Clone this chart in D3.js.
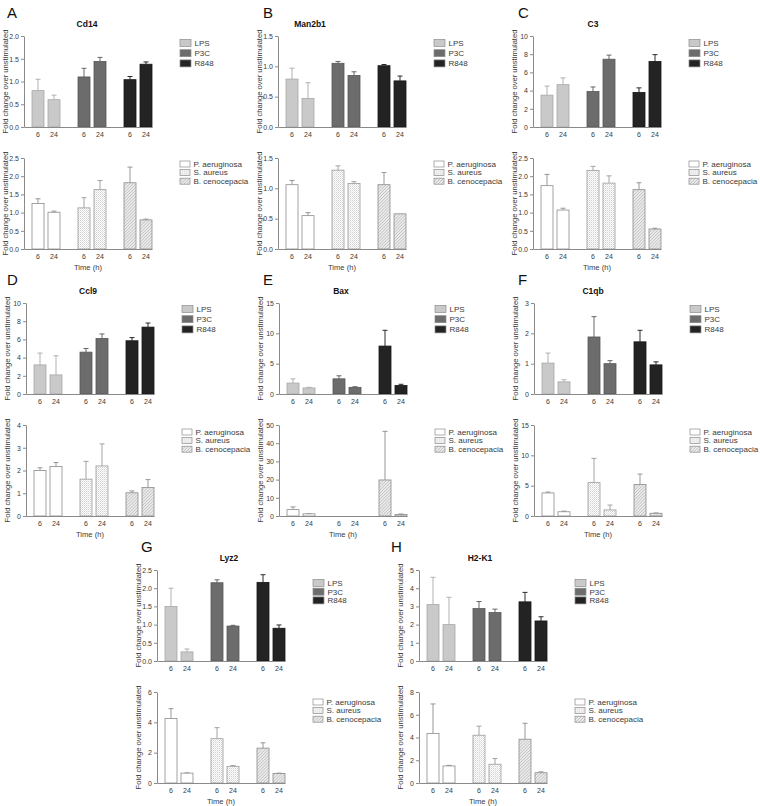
<!DOCTYPE html>
<html>
<head>
<meta charset="utf-8">
<script src="https://cdn.jsdelivr.net/npm/d3@7/dist/d3.min.js"></script>
<style>
  body { margin: 0; background: #fff; }
  svg { font-family: 'Liberation Sans', Arial, sans-serif; }
</style>
</head>
<body>
<div id="chart"></div>
<script>
// Gene expression after stimulation — fold change over unstimulated (mean + SEM)

const times = ['6', '24'];
const stimuli = ['LPS', 'P3C', 'R848'];
const bacteria = ['P. aeruginosa', 'S. aureus', 'B. cenocepacia'];
const genes = ['Cd14', 'Man2b1', 'C3', 'Ccl9', 'Bax', 'C1qb', 'Lyz2', 'H2-K1'];
const panelLetters = ['A', 'B', 'C', 'D', 'E', 'F', 'G', 'H'];

// [gene][stimulus][time]
const stimMeans = [
  [[0.80, 0.60], [1.10, 1.44], [1.04, 1.38]],
  [[0.79, 0.47], [1.05, 0.85], [1.01, 0.76]],
  [[3.5, 4.65], [3.9, 7.45], [3.8, 7.2]],
  [[3.2, 2.1], [4.6, 6.1], [5.85, 7.35]],
  [[1.8, 1.0], [2.5, 1.1], [7.9, 1.4]],
  [[1.02, 0.40], [1.88, 1.0], [1.72, 0.96]],
  [[1.50, 0.25], [2.15, 0.96], [2.16, 0.90]],
  [[3.1, 2.0], [2.88, 2.66], [3.25, 2.2]],
];
const stimErrors = [
  [[0.25, 0.10], [0.19, 0.09], [0.07, 0.05]],
  [[0.18, 0.26], [0.03, 0.06], [0.02, 0.08]],
  [[1.0, 0.75], [0.5, 0.45], [0.5, 0.75]],
  [[1.3, 2.1], [0.4, 0.5], [0.35, 0.45]],
  [[0.7, 0.1], [0.5, 0.1], [2.6, 0.2]],
  [[0.33, 0.07], [0.67, 0.1], [0.38, 0.1]],
  [[0.50, 0.08], [0.08, 0.02], [0.21, 0.09]],
  [[1.5, 1.5], [0.39, 0.19], [0.52, 0.23]],
];

// [gene][bacterium][time]
const bactMeans = [
  [[1.25, 1.01], [1.13, 1.63], [1.82, 0.80]],
  [[1.06, 0.55], [1.30, 1.08], [1.06, 0.58]],
  [[1.74, 1.07], [2.16, 1.81], [1.63, 0.55]],
  [[2.0, 2.18], [1.62, 2.2], [1.02, 1.25]],
  [[3.5, 1.2], [0, 0], [19.8, 0.8]],
  [[3.8, 0.7], [5.5, 1.0], [5.2, 0.45]],
  [[4.25, 0.65], [2.92, 1.1], [2.3, 0.63]],
  [[4.35, 1.5], [4.2, 1.65], [3.85, 0.9]],
];
const bactErrors = [
  [[0.13, 0.03], [0.28, 0.25], [0.43, 0.02]],
  [[0.07, 0.05], [0.07, 0.03], [0.20, 0]],
  [[0.31, 0.05], [0.11, 0.20], [0.19, 0.02]],
  [[0.12, 0.17], [0.78, 0.97], [0.08, 0.35]],
  [[1.5, 0.1], [0, 0], [26.7, 0.3]],
  [[0.15, 0.1], [4.0, 0.8], [1.7, 0.05]],
  [[0.65, 0.02], [0.73, 0.05], [0.35, 0.02]],
  [[2.6, 0.05], [0.8, 0.5], [1.4, 0.08]],
];

const stimMax = [2, 1.5, 10, 10, 15, 3, 2.5, 5];
const stimStep = [0.5, 0.5, 2, 2, 5, 1, 0.5, 1];
const bactMax = [2.5, 1.5, 2.5, 4, 50, 15, 6, 8];
const bactStep = [0.5, 0.5, 0.5, 1, 10, 5, 2, 2];

// placement of each panel on the page
const panels = [
  { axisX: 24,  row: 0, letterX: 7,   titleDx: 63 },
  { axisX: 278, row: 0, letterX: 263, titleDx: 32 },
  { axisX: 533, row: 0, letterX: 518, titleDx: 60 },
  { axisX: 26,  row: 1, letterX: 7,   titleDx: 62 },
  { axisX: 279, row: 1, letterX: 263, titleDx: 62 },
  { axisX: 534, row: 1, letterX: 518, titleDx: 59 },
  { axisX: 157, row: 2, letterX: 141, titleDx: 72 },
  { axisX: 419, row: 2, letterX: 391, titleDx: 61 },
];
const rowTop = [36, 303, 570];
const legendTopDy = [7, 6, 13];
const legendBotDy = [6, 7, 10];

const W = 760, H = 806;
const plotW = 128, plotH = 91;
const botOffset = 122;
const textCol = '#3a3a3a';
const axisCol = '#8a8a8a';

const svg = d3.select('#chart').append('svg')
  .attr('width', W).attr('height', H);

// patterns for the bacterial bars
const defs = svg.append('defs');
const dots = defs.append('pattern')
  .attr('id', 'dots').attr('patternUnits', 'userSpaceOnUse')
  .attr('width', 2).attr('height', 2);
dots.append('rect').attr('width', 2).attr('height', 2).attr('fill', '#fff');
dots.append('rect').attr('width', 1).attr('height', 1).attr('fill', '#cfcfcf');
dots.append('rect').attr('x', 1).attr('y', 1).attr('width', 1).attr('height', 1).attr('fill', '#e4e4e4');

const hatch = defs.append('pattern')
  .attr('id', 'hatch').attr('patternUnits', 'userSpaceOnUse')
  .attr('width', 2.2).attr('height', 2.2)
  .attr('patternTransform', 'rotate(45)');
hatch.append('rect').attr('width', 2.2).attr('height', 2.2).attr('fill', '#ececec');
hatch.append('line').attr('x1', 0).attr('y1', 0).attr('x2', 0).attr('y2', 2.2)
  .attr('stroke', '#a4a4a4').attr('stroke-width', 0.9);

const stimStyle = {
  'LPS':  { fill: '#c9c9c9', stroke: '#a8a8a8' },
  'P3C':  { fill: '#6c6c6c', stroke: '#575757' },
  'R848': { fill: '#232323', stroke: '#151515' },
};
const bactStyle = {
  'P. aeruginosa':  { fill: '#fff', stroke: '#8c8c8c' },
  'S. aureus':      { fill: 'url(#dots)', stroke: '#9a9a9a' },
  'B. cenocepacia': { fill: 'url(#hatch)', stroke: '#8c8c8c' },
};

function ticksFor(max, step) {
  return d3.range(0, max + step / 2, step);
}

function drawPlot(g, groups, means, errors, max, step, styles, showTime) {
  const x0 = d3.scaleBand().domain(groups).range([0, plotW])
    .paddingInner(18 / 46).paddingOuter(4 / 46).align(1);
  const x1 = d3.scaleBand().domain(times).range([0, x0.bandwidth()])
    .paddingInner(0.25);
  const y = d3.scaleLinear().domain([0, max]).range([plotH, 0]);
  const fmt = step < 1 ? d3.format('.1f') : d3.format('d');

  // y axis
  const ya = g.append('g').call(d3.axisLeft(y)
    .tickValues(ticksFor(max, step)).tickFormat(fmt)
    .tickSize(3).tickSizeOuter(0).tickPadding(2));
  ya.select('.domain').attr('stroke', axisCol);
  ya.selectAll('.tick line').attr('stroke', axisCol);
  ya.selectAll('.tick text').attr('fill', textCol).style('font-size', '7px');

  // bars and error bars
  groups.forEach((grp, gi) => {
    const gg = g.append('g').attr('transform', `translate(${x0(grp)},0)`);
    const st = styles[grp];
    times.forEach((t, ti) => {
      const m = means[gi][ti];
      const e = errors[gi][ti];
      if (m <= 0) return;
      const bx = x1(t), bw = x1.bandwidth(), cx = bx + bw / 2;
      if (e > 0) {
        gg.append('line')
          .attr('x1', cx).attr('x2', cx)
          .attr('y1', y(m)).attr('y2', y(m + e))
          .attr('stroke', st.stroke).attr('stroke-width', 0.9);
        gg.append('line')
          .attr('x1', cx - 2.5).attr('x2', cx + 2.5)
          .attr('y1', y(m + e)).attr('y2', y(m + e))
          .attr('stroke', st.stroke).attr('stroke-width', 0.9);
      }
      gg.append('rect')
        .attr('x', bx).attr('y', y(m))
        .attr('width', bw).attr('height', y(0) - y(m))
        .attr('fill', st.fill)
        .attr('stroke', st.stroke).attr('stroke-width', 0.8);
    });
    // time labels under each group
    const xa = gg.append('g').attr('transform', `translate(0,${plotH})`)
      .call(d3.axisBottom(x1).tickSize(0).tickPadding(5));
    xa.select('.domain').remove();
    xa.selectAll('text').attr('fill', textCol).style('font-size', '7px');
  });

  // x axis line
  const xa = g.append('g').attr('transform', `translate(0,${plotH})`)
    .call(d3.axisBottom(x0).tickValues([]).tickSizeOuter(0));
  xa.select('.domain').attr('stroke', axisCol);

  // y label
  g.append('text')
    .attr('transform', `translate(-19,${plotH / 2}) rotate(-90)`)
    .attr('text-anchor', 'middle').attr('dy', '0.35em')
    .attr('fill', textCol).style('font-size', '7.6px')
    .text('Fold change over unstimulated');

  if (showTime) {
    g.append('text')
      .attr('x', plotW / 2).attr('y', plotH + 21)
      .attr('text-anchor', 'middle')
      .attr('fill', textCol).style('font-size', '7.6px')
      .text('Time (h)');
  }
}

function drawLegend(g, items, styles, spacing, sw, sh) {
  items.forEach((name, i) => {
    const row = g.append('g').attr('transform', `translate(0,${i * spacing})`);
    row.append('rect')
      .attr('x', 0).attr('y', -sh / 2)
      .attr('width', sw).attr('height', sh)
      .attr('fill', styles[name].fill)
      .attr('stroke', '#8c8c8c').attr('stroke-width', 0.7);
    row.append('text')
      .attr('x', sw + 3.5).attr('dy', '0.35em')
      .attr('fill', textCol).style('font-size', '8px')
      .text(name);
  });
}

genes.forEach((gene, i) => {
  const p = panels[i];
  const top = rowTop[p.row];

  svg.append('text')
    .attr('x', p.letterX).attr('y', top - 18)
    .attr('fill', '#111').style('font-size', '15px')
    .text(panelLetters[i]);

  svg.append('text')
    .attr('x', p.axisX + p.titleDx).attr('y', top - 9)
    .attr('text-anchor', 'middle')
    .attr('fill', '#111').style('font-size', '8.5px').style('font-weight', 'bold')
    .text(gene);

  const gTop = svg.append('g').attr('transform', `translate(${p.axisX},${top})`);
  drawPlot(gTop, stimuli, stimMeans[i], stimErrors[i], stimMax[i], stimStep[i], stimStyle, false);

  const gBot = svg.append('g').attr('transform', `translate(${p.axisX},${top + botOffset})`);
  drawPlot(gBot, bacteria, bactMeans[i], bactErrors[i], bactMax[i], bactStep[i], bactStyle, true);

  const lTop = svg.append('g')
    .attr('transform', `translate(${p.axisX + 156},${top + legendTopDy[p.row]})`);
  drawLegend(lTop, stimuli, stimStyle, p.row === 2 ? 8.7 : 10.2, 11, 7);

  const lBot = svg.append('g')
    .attr('transform', `translate(${p.axisX + 156},${top + botOffset + legendBotDy[p.row]})`);
  drawLegend(lBot, bacteria, bactStyle, 8.6, 10, 6);
});
</script>
</body>
</html>
